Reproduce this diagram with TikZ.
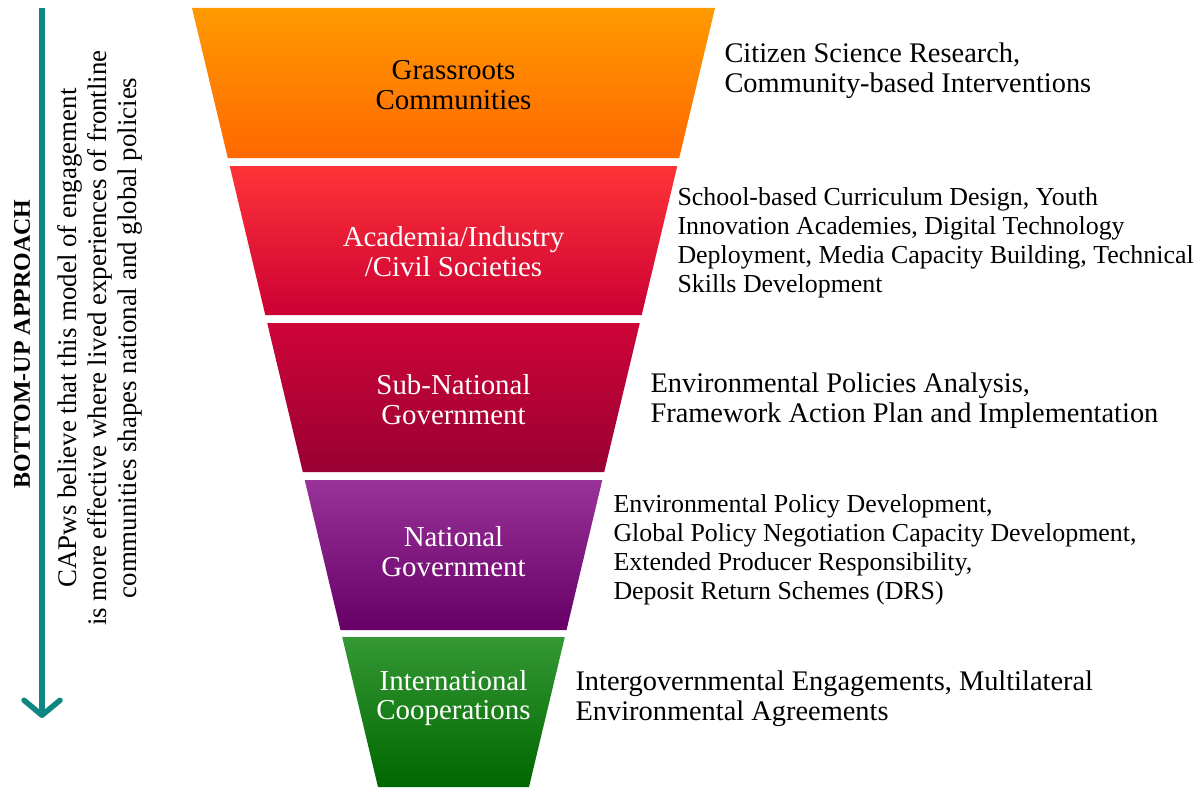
\documentclass[tikz,border=0pt]{standalone}
\usepackage{fontspec}
\setmainfont{Liberation Serif}
\usepackage{tikz}
\usetikzlibrary{arrows.meta}

\definecolor{orgA}{RGB}{255,154,0}
\definecolor{orgB}{RGB}{255,104,0}
\definecolor{redA}{RGB}{255,52,56}
\definecolor{redB}{RGB}{204,0,51}
\definecolor{crmA}{RGB}{206,4,56}
\definecolor{crmB}{RGB}{153,0,51}
\definecolor{purA}{RGB}{153,51,153}
\definecolor{purB}{RGB}{102,0,102}
\definecolor{grnA}{RGB}{52,153,52}
\definecolor{grnB}{RGB}{0,102,0}
\definecolor{tealarr}{RGB}{14,135,132}

\begin{document}
\begin{tikzpicture}[x=1bp,y=-1bp]
\tikzstyle{lvl}=[align=center,font=\fontsize{29}{30}\selectfont];
\tikzstyle{act}=[anchor=west,align=left,font=\fontsize{26}{29}\selectfont];
\tikzstyle{actl}=[act,font=\fontsize{28.5}{30}\selectfont];
\tikzstyle{note}=[rotate=90,align=center,font=\fontsize{27}{30}\selectfont];
\tikzstyle{flow}=[draw=tealarr,line width=5.5bp,-{Straight Barb[length=15bp,width=36bp,round]}];

\useasboundingbox (0,0) rectangle (1200,797);

% funnel
\shade [top color=orgA,bottom color=orgB] (192,8) -- (715,8) -- (679.2,158) -- (227.8,158) -- cycle;
\shade [top color=redA,bottom color=redB] (229.7,166) -- (677.3,166) -- (641.7,315) -- (265.3,315) -- cycle;
\shade [top color=crmA,bottom color=crmB] (267.2,323) -- (639.8,323) -- (604.2,472) -- (302.8,472) -- cycle;
\shade [top color=purA,bottom color=purB] (304.7,480) -- (602.3,480) -- (566.5,630) -- (340.5,630) -- cycle;
\shade [top color=grnA,bottom color=grnB] (342.2,637) -- (564.8,637) -- (529,787) -- (378,787) -- cycle;

\node [lvl] (l1) at (453.5,85) {Grassroots\\Communities};
\node [lvl,white] (l2) at (453.5,252) {Academia/Industry\\/Civil Societies};
\node [lvl,white] (l3) at (453.5,400) {Sub-National\\Government};
\node [lvl,white] (l4) at (453.5,552) {National\\Government};
\node [lvl,white] (l5) at (453.5,698) {International\\Cooperations};

\node [actl] (a1) at (721,71) {Citizen Science Research,\\Community-based Interventions};
\node [act] (a2) at (674,243) {School-based Curriculum Design, Youth\\Innovation Academies, Digital Technology\\Deployment, Media Capacity Building, Technical\\Skills Development};
\node [actl] (a3) at (647,401) {Environmental Policies Analysis,\\Framework Action Plan and Implementation};
\node [act] (a4) at (610,550) {Environmental Policy Development,\\Global Policy Negotiation Capacity Development,\\Extended Producer Responsibility,\\Deposit Return Schemes (DRS)};
\node [actl] (a5) at (572,699) {Intergovernmental Engagements, Multilateral\\Environmental Agreements};

% bottom-up arrow
\coordinate (top) at (42,8);
\coordinate (bot) at (42,718);
\draw [flow] (top) -- (bot);
\node [note,font=\fontsize{24}{26}\selectfont\bfseries] (bu) at (22,344) {BOTTOM-UP APPROACH};
\node [note] (why) at (100,338) {CAPws believe that this model of engagement\\is more effective where lived experiences of frontline\\communities shapes national and global policies};
\end{tikzpicture}
\end{document}
